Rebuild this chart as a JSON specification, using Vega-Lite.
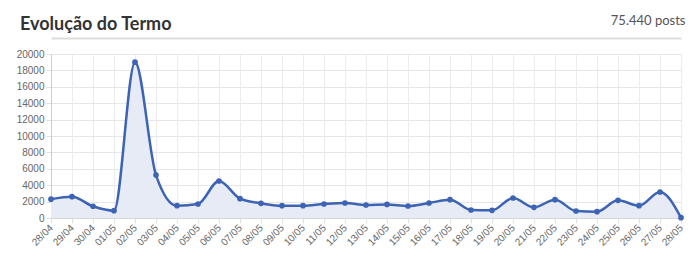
{
  "$schema": "https://vega.github.io/schema/vega-lite/v6.json",
  "autosize": {"type": "none"},
  "width": 630,
  "height": 164,
  "padding": {"left": 51, "top": 54, "right": 19, "bottom": 38},
  "background": "white",
  "title": {
    "text": "Evolução do Termo",
    "anchor": "start",
    "frame": "group",
    "dx": -31,
    "offset": -20,
    "font": "Lato",
    "fontSize": 18,
    "fontWeight": "bold",
    "color": "#333333"
  },
  "data": {
    "values": [
      {"dia": "28/04", "posts": 2300},
      {"dia": "29/04", "posts": 2600},
      {"dia": "30/04", "posts": 1430},
      {"dia": "01/05", "posts": 890},
      {"dia": "02/05", "posts": 19000},
      {"dia": "03/05", "posts": 5240},
      {"dia": "04/05", "posts": 1500},
      {"dia": "05/05", "posts": 1710},
      {"dia": "06/05", "posts": 4510},
      {"dia": "07/05", "posts": 2360},
      {"dia": "08/05", "posts": 1790},
      {"dia": "09/05", "posts": 1500},
      {"dia": "10/05", "posts": 1500},
      {"dia": "11/05", "posts": 1710},
      {"dia": "12/05", "posts": 1830},
      {"dia": "13/05", "posts": 1585},
      {"dia": "14/05", "posts": 1660},
      {"dia": "15/05", "posts": 1460},
      {"dia": "16/05", "posts": 1830},
      {"dia": "17/05", "posts": 2235},
      {"dia": "18/05", "posts": 975},
      {"dia": "19/05", "posts": 935},
      {"dia": "20/05", "posts": 2440},
      {"dia": "21/05", "posts": 1300},
      {"dia": "22/05", "posts": 2235},
      {"dia": "23/05", "posts": 850},
      {"dia": "24/05", "posts": 770},
      {"dia": "25/05", "posts": 2150},
      {"dia": "26/05", "posts": 1500},
      {"dia": "27/05", "posts": 3170},
      {"dia": "28/05", "posts": 40}
    ]
  },
  "encoding": {
    "y": {
      "field": "posts", "type": "quantitative",
      "scale": {"domain": [0, 20000]},
      "axis": {
        "title": null, "values": [0, 2000, 4000, 6000, 8000, 10000, 12000, 14000, 16000, 18000, 20000],
        "format": "d", "labelOverlap": false, "labelFont": "Liberation Sans", "labelFontSize": 10, "labelColor": "#666666",
        "gridColor": "#e6e6e6", "tickColor": "#e0e0e0", "tickSize": 5, "labelPadding": 2,
        "domainColor": "#cccccc"
      }
    }
  },
  "resolve": {"axis": {"x": "independent"}},
  "layer": [
    {
      "mark": {"type": "area", "interpolate": "monotone", "color": "#e6ebf5"},
      "encoding": {
        "x": {
          "field": "dia", "type": "ordinal", "sort": null,
          "scale": {"type": "point", "padding": 0},
          "axis": {
            "orient": "top", "offset": 16, "title": "75.440 posts",
            "labels": false, "ticks": false, "grid": false,
            "domain": true, "domainColor": "#dddddd", "domainWidth": 2,
            "titleX": 634, "titleAlign": "right", "titlePadding": 11,
            "titleFont": "Lato", "titleFontSize": 13, "titleFontWeight": "normal",
            "titleColor": "#555555"
          }
        }
      }
    },
    {
      "mark": {"type": "line", "interpolate": "monotone", "color": "#3d63b5", "strokeWidth": 2.5,
               "point": {"filled": true, "size": 32, "color": "#3d63b5"}},
      "encoding": {
        "x": {
          "field": "dia", "type": "ordinal", "sort": null,
          "scale": {"type": "point", "padding": 0},
          "axis": {
            "orient": "bottom", "title": null, "labelAngle": -45, "labelAlign": "right", "labelBaseline": "middle",
            "labelFont": "Liberation Sans", "labelFontSize": 10, "labelColor": "#666666",
            "grid": true, "gridColor": "#ececec", "tickColor": "#e0e0e0", "tickSize": 5,
            "labelPadding": 3, "domainColor": "#d5d5d5"
          }
        }
      }
    }
  ],
  "config": {"view": {"stroke": null}}
}
